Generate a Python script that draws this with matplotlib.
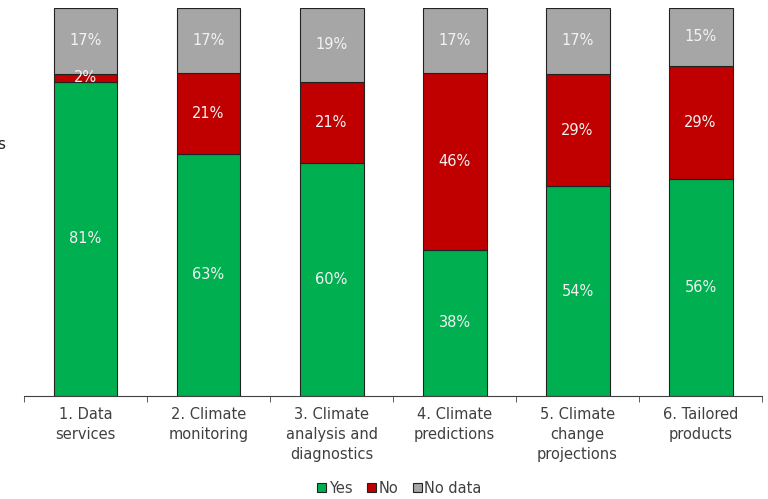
import matplotlib.pyplot as plt
import numpy as np

categories = ["1. Data\nservices", "2. Climate\nmonitoring", "3. Climate\nanalysis and\ndiagnostics",
              "4. Climate\npredictions", "5. Climate\nchange\nprojections", "6. Tailored\nproducts"]
yes = [81, 63, 60, 38, 54, 56]
no = [2, 21, 21, 46, 29, 29]
no_data = [17, 17, 19, 17, 17, 15]

series = [("Yes", yes, "#00B050"), ("No", no, "#C00000"), ("No data", no_data, "#A6A6A6")]

fig = plt.figure(figsize=(7.68, 4.99), dpi=100)
ax = fig.add_axes([0.03125, 0.2064, 0.961, 0.778])

x = np.arange(len(categories))
totals = np.array(yes) + np.array(no) + np.array(no_data)
bottom = np.zeros(len(categories))
for name, vals, color in series:
    # 100% stacked: scale each column by its total
    h = np.array(vals) / totals * 100
    ax.bar(x, h, 0.52, bottom=bottom, color=color, edgecolor="#222222",
           linewidth=0.8, label=name)
    for xi, b, hi, v in zip(x, bottom, h, vals):
        ax.text(xi, b + hi / 2, f"{v}%", ha="center", va="center",
                color="#F2F2F2", fontsize=10.5)
    bottom += h

ax.set_xlim(-0.5, len(categories) - 0.5)
ax.set_ylim(0, 100)
ax.set_yticks([])
for s in ["top", "right", "left"]:
    ax.spines[s].set_visible(False)
ax.spines["bottom"].set_color("#404040")

ax.set_xticks(x)
ax.set_xticklabels(categories, fontsize=10.5, color="#404040", linespacing=1.4)
ax.tick_params(axis="x", which="major", length=0, pad=8)
ax.set_xticks(np.arange(-0.5, len(categories)), minor=True)
ax.tick_params(axis="x", which="minor", length=4, color="#404040", direction="out")

fig.text(-0.004, 0.71, "s", fontsize=11, color="#222222", va="center")

leg = fig.legend(loc="center", bbox_to_anchor=(0.52, 0.022), ncol=3, frameon=False,
                 fontsize=10.5, handlelength=0.6, handleheight=0.6, handletextpad=0.2,
                 columnspacing=1.0, labelcolor="#404040")

fig.savefig("out.png", dpi=100)
